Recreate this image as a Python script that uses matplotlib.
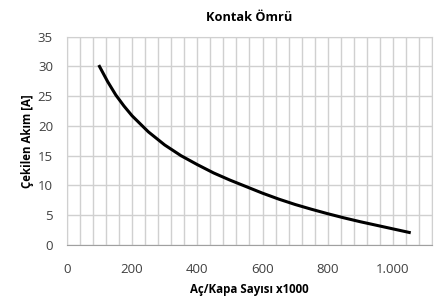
import matplotlib.pyplot as plt
from matplotlib.ticker import FixedLocator, MultipleLocator, FuncFormatter

plt.rcParams['font.family'] = ['Open Sans', 'DejaVu Sans']

# values
cycles = [100, 125, 150, 175, 200, 250, 300, 350, 400, 450, 500, 550,
          600, 650, 700, 750, 800, 850, 900, 950, 1000, 1050]
current = [30.0, 27.45, 25.2, 23.35, 21.7, 19.0, 16.8, 15.0, 13.5, 12.1, 10.9, 9.8,
           8.7, 7.7, 6.8, 6.0, 5.25, 4.55, 3.9, 3.3, 2.7, 2.1]
x_ticks = [0, 200, 400, 600, 800, 1000]
y_ticks = [0, 5, 10, 15, 20, 25, 30, 35]

fig = plt.figure(figsize=(4.4, 2.98), dpi=100)
ax = fig.add_axes([0.152, 0.178, 0.830, 0.699])

ax.plot(cycles, current, color='black', lw=2.2, solid_joinstyle='round')

ax.set_xlim(0, 1120)
ax.set_ylim(0, 35)
ax.xaxis.set_major_locator(FixedLocator(x_ticks))
ax.xaxis.set_minor_locator(MultipleLocator(40))
ax.yaxis.set_major_locator(FixedLocator(y_ticks))
ax.xaxis.set_major_formatter(FuncFormatter(lambda v, p: f'{int(v):,}'.replace(',', '.')))

ax.grid(which='major', axis='y', color='#d0d0d0', lw=1)
ax.grid(which='both', axis='x', color='#d0d0d0', lw=1)
ax.set_axisbelow(True)
for s in ax.spines.values():
    s.set_color('#d0d0d0')
ax.spines['bottom'].set_color('#a0a0a0')

ax.tick_params(which='both', length=0, labelsize=9.5, colors='#404040')
ax.tick_params(axis='y', pad=10)
ax.tick_params(axis='x', pad=13)

ax.set_title('Kontak Ömrü', fontsize=9.2, fontweight='bold', pad=11)
ax.set_xlabel('Aç/Kapa Sayısı x1000', fontsize=8.3, fontweight='bold', labelpad=5)
ax.set_ylabel('Çekilen Akım [A]', fontsize=8.3, fontweight='bold', labelpad=3)

fig.savefig('out.png', dpi=100)
